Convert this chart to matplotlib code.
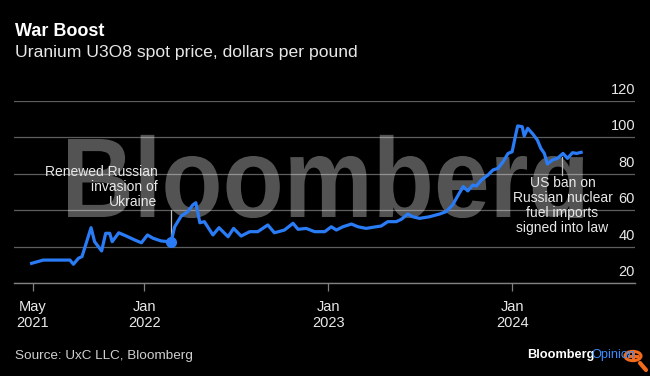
import matplotlib
matplotlib.use('Agg')
import matplotlib.pyplot as plt
from matplotlib.textpath import TextPath
from matplotlib.patches import PathPatch, Rectangle, Circle
from matplotlib.font_manager import FontProperties
from matplotlib.transforms import Affine2D, blended_transform_factory
from matplotlib.lines import Line2D
import pandas as pd

plt.rcParams['font.family'] = ['Liberation Sans', 'DejaVu Sans']

# weekly-ish readings of the uranium spot price, $/lb
dates = ['2021-05-22', '2021-06-14', '2021-08-06', '2021-08-13', '2021-08-23', '2021-08-30',
         '2021-09-17', '2021-09-24', '2021-10-08', '2021-10-16', '2021-10-24', '2021-10-29',
         '2021-11-11', '2021-11-26', '2021-12-13', '2021-12-26', '2022-01-07', '2022-01-18',
         '2022-02-03', '2022-02-23', '2022-03-02', '2022-03-15', '2022-03-28', '2022-04-07',
         '2022-04-13', '2022-04-21', '2022-04-30', '2022-05-17', '2022-05-29', '2022-06-16',
         '2022-06-27', '2022-07-12', '2022-07-29', '2022-08-14', '2022-09-03', '2022-09-16',
         '2022-10-06', '2022-10-23', '2022-11-02', '2022-11-18', '2022-12-05', '2022-12-25',
         '2023-01-07', '2023-01-17', '2023-01-30', '2023-02-16', '2023-03-01', '2023-03-17',
         '2023-04-06', '2023-04-16', '2023-04-29', '2023-05-16', '2023-05-26', '2023-06-08',
         '2023-06-18', '2023-07-01', '2023-07-21', '2023-08-10', '2023-08-23', '2023-09-05',
         '2023-09-18', '2023-09-26', '2023-10-05', '2023-10-15', '2023-10-22', '2023-11-01',
         '2023-11-14', '2023-11-24', '2023-12-04', '2023-12-14', '2023-12-24', '2024-01-01',
         '2024-01-08', '2024-01-12', '2024-01-21', '2024-01-25', '2024-02-01', '2024-02-11',
         '2024-02-20', '2024-02-27', '2024-03-05', '2024-03-11', '2024-03-21', '2024-03-31',
         '2024-04-11', '2024-04-20', '2024-04-30', '2024-05-08', '2024-05-17']
prices = [30.8, 32.6, 32.6, 30.3, 33.6, 34.5,
          50.4, 42.7, 37.6, 47.3, 47.3, 42.7,
          47.6, 45.8, 43.6, 42.1, 46.4, 44.6,
          43.1, 42.6, 50.9, 56.8, 59.2, 62.9,
          64.1, 53.1, 53.7, 46.4, 50.4, 45.4,
          50.0, 45.8, 48.2, 48.2, 51.9, 47.6,
          49.1, 52.8, 49.5, 50.0, 48.2, 48.2,
          50.9, 49.1, 50.9, 52.4, 50.9, 50.0,
          50.9, 51.3, 53.7, 53.7, 55.0, 57.9,
          56.4, 55.5, 56.4, 57.9, 59.2, 62.9,
          69.3, 73.0, 70.6, 73.8, 73.3, 76.6,
          79.3, 82.1, 83.0, 86.6, 91.2, 92.1,
          101.3, 106.3, 105.9, 100.8, 105.0, 101.9,
          98.6, 94.0, 91.2, 85.4, 87.6, 88.5,
          91.2, 88.5, 91.6, 91.2, 91.8]

tick_dates = ['2021-05-24', '2022-01-01', '2023-01-01', '2024-01-01']
tick_labels = ['May\n2021', 'Jan\n2022', 'Jan\n2023', 'Jan\n2024']
y_ticks = [20, 40, 60, 80, 100, 120]

invasion_date = '2022-02-23'
invasion_text = 'Renewed Russian\ninvasion of\nUkraine'
ban_date = '2024-04-10'
ban_text = 'US ban on\nRussian nuclear\nfuel imports\nsigned into law'

BG = '#000000'
BLUE = '#2a7cf6'
GRID = '#5e5e5e'
TXT = '#e8e8e8'

W, H = 650, 376
fig = plt.figure(figsize=(W / 100, H / 100), dpi=100, facecolor=BG)
ax = fig.add_axes([14 / W, 1 - 283 / H, (635 - 14) / W, (283 - 101) / H])
ax.set_facecolor(BG)

x = pd.to_datetime(dates)
ax.set_xlim(pd.Timestamp('2021-04-17'), pd.Timestamp('2024-09-01'))
ax.set_ylim(20, 120)

# gridlines
ax.set_yticks(y_ticks)
ax.yaxis.grid(True, color=GRID, lw=0.9)
ax.tick_params(axis='y', length=0, labelleft=False)
for s in ['top', 'left', 'right']:
    ax.spines[s].set_visible(False)
ax.spines['bottom'].set_color('#808080')
ax.spines['bottom'].set_linewidth(1.0)
ax.set_axisbelow(True)

ytrans = blended_transform_factory(ax.transAxes, ax.transData)
for v in y_ticks:
    ax.text(1.0, v + 2.2, str(v), transform=ytrans, ha='right', va='bottom',
            fontsize=10.5, color=TXT)

ax.set_xticks(pd.to_datetime(tick_dates))
ax.set_xticklabels(tick_labels)
ax.tick_params(axis='x', direction='out', length=6, width=0.9, color='#808080',
               labelcolor=TXT, labelsize=10.5, pad=6)

# watermark
fp = FontProperties(family='Liberation Sans', weight='bold')
tp = TextPath((0, 0), 'Bloomberg', size=1, prop=fp)
cap = TextPath((0, 0), 'B', size=1, prop=fp).get_extents().ymax
ext = tp.get_extents()
sx = (583 - 68) / (ext.xmax - ext.xmin)
sy = (217 - 139) / cap
tr = Affine2D().translate(-ext.xmin, 0).scale(sx / W, sy / H).translate(68 / W, (H - 217) / H)
wm = PathPatch(tp, facecolor='white', edgecolor='none', alpha=0.33,
               transform=tr + fig.transFigure, zorder=1.5)
ax.add_patch(wm)
wm.set_clip_path(Rectangle((0, (H - 218) / H), 1, 1, transform=fig.transFigure))

ax.plot(x, prices, color=BLUE, lw=2.3, solid_joinstyle='round', zorder=3)

# invasion annotation
inv = pd.Timestamp(invasion_date)
inv_val = prices[dates.index(invasion_date)]
ax.plot([inv, inv], [inv_val, 60], color='#bdbdbd', lw=0.9, zorder=2.5)
ax.plot([inv], [inv_val], 'o', color=BLUE, ms=7, zorder=4)
ax.text(pd.Timestamp('2022-01-27'), 60.8, invasion_text, ha='right', va='bottom',
        multialignment='right', fontsize=10, color=TXT, linespacing=1.1, zorder=5)

# ban annotation
ban = pd.Timestamp(ban_date)
ax.plot([ban, ban], [89.5, 79.5], color='#bdbdbd', lw=0.9, zorder=2.5)
ax.text(ban, 79.0, ban_text, ha='center', va='top', multialignment='center',
        fontsize=10, color=TXT, linespacing=1.1, zorder=5)

# titles
fig.text(15 / W, 1 - 32 / H, 'War Boost', fontsize=13, fontweight='bold',
         color='white', va='center', ha='left')
fig.text(15 / W, 1 - 52 / H, 'Uranium U3O8 spot price, dollars per pound',
         fontsize=12.6, color=TXT, va='center', ha='left')
fig.text(15 / W, 1 - 356 / H, 'Source: UxC LLC, Bloomberg', fontsize=9.7,
         color='#d0d0d0', va='center', ha='left')
fig.text(527 / W, 1 - 355 / H, 'Bloomberg', fontsize=9.2, fontweight='bold',
         color='white', va='center', ha='left')
fig.text(591 / W, 1 - 355 / H, 'Opinion', fontsize=9.2, color='#3b8cff',
         va='center', ha='left')

# magnifier overlay
OR = '#f26b1d'
fig.add_artist(Line2D([640 / W, 646 / W], [1 - 363 / H, 1 - 370 / H], color=OR, lw=3,
                      solid_capstyle='round'))
fig.add_artist(Circle((633 / W, 1 - 356 / H), 8 / W, transform=fig.transFigure,
                      facecolor=BG, edgecolor=OR, lw=2.2))
fig.add_artist(Line2D([629 / W, 637 / W], [1 - 356 / H, 1 - 356 / H], color=OR, lw=2.2))
fig.add_artist(Line2D([633 / W, 633 / W], [1 - 352 / H, 1 - 360 / H], color=OR, lw=2.2))

fig.savefig('out.png', dpi=100, facecolor=BG)
